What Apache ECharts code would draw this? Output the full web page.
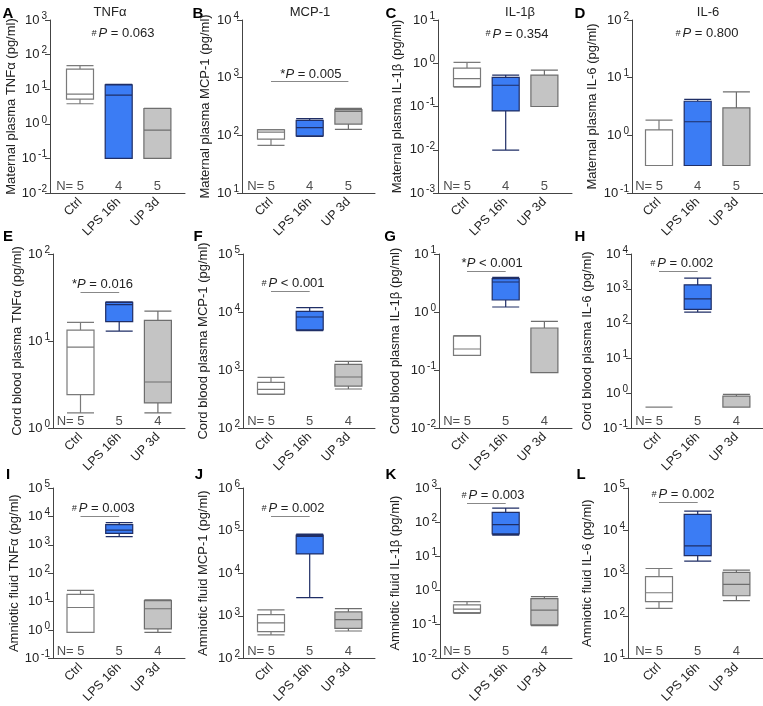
<!DOCTYPE html>
<html>
<head>
<meta charset="utf-8">
<script src="https://cdn.jsdelivr.net/npm/echarts@6/dist/echarts.min.js"></script>
<style>
  html, body { margin: 0; padding: 0; background: #fff; }
  #chart { width: 763px; height: 706px; }
</style>
</head>
<body>
<div id="chart"></div>
<script>
// groups on the x axis
var categories = ['Ctrl', 'LPS 16h', 'UP 3d'];
var nRow1 = [5, 4, 5];
var nRow23 = [5, 5, 4];

// each box: [min, Q1, median, Q3, max] in pg/ml, one per group
var boxA = [[3.8, 5.2, 7.2, 38, 48], [0.1, 0.1, 6.7, 13.3, 13.8], [0.1, 0.1, 0.66, 2.77, 2.8]];
var boxB = [[67, 86, 114, 124, 126], [96, 98, 136, 182, 195], [127, 157, 261, 279, 294]];
var boxC = [[0.28, 0.29, 0.44, 0.77, 1.05], [0.0098, 0.079, 0.31, 0.47, 0.53], [0.1, 0.1, 0.1, 0.53, 0.69]];
var boxD = [[0.3, 0.3, 0.3, 1.24, 1.84], [0.3, 0.3, 1.72, 3.9, 4.2], [0.3, 0.3, 0.3, 3.0, 5.66]];
var boxE = [[1.49, 2.42, 8.5, 13.3, 16.4], [13.0, 16.7, 26.2, 27.8, 28.1], [1.49, 1.94, 3.38, 17.3, 22.1]];
var boxF = [[380, 386, 464, 612, 748], [4790, 4900, 8200, 10260, 11880], [470, 529, 757, 1250, 1410]];
var boxG = [[0.179, 0.179, 0.23, 0.385, 0.39], [1.22, 1.61, 3.29, 3.76, 3.96], [0.09, 0.09, 0.09, 0.53, 0.69]];
var boxH = [[0.4, 0.4, 0.4, 0.4, 0.4], [215, 257, 513, 1300, 2030], [0.4, 0.4, 0.4, 0.82, 0.93]];
var boxI = [[0.82, 0.82, 6.2, 17.8, 25], [1930, 2510, 3270, 5110, 5990], [0.82, 1.1, 5.6, 10.8, 11.4]];
var boxJ = [[355, 423, 680, 1070, 1370], [2670, 28300, 72900, 78200, 82400], [439, 505, 811, 1235, 1470]];
var boxK = [[0.21, 0.22, 0.28, 0.373, 0.464], [41.6, 45, 84, 193, 256], [0.092, 0.096, 0.262, 0.565, 0.645]];
var boxL = [[150, 216, 347, 833, 1290], [1925, 2590, 4390, 24000, 28700], [227, 295, 546, 1045, 1180]];

// y axis range as powers of ten [lowest, highest]
var expA = [-2, 3], expB = [1, 4], expC = [-3, 1], expD = [-1, 2];
var expE = [0, 2], expF = [2, 5], expG = [-2, 1], expH = [-1, 4];
var expI = [-1, 5], expJ = [2, 6], expK = [-2, 3], expL = [1, 5];

var colTitles = ['TNFα', 'MCP-1', 'IL-1β', 'IL-6'];

var panels = [
  { key: 'A', box: boxA, exp: expA, n: nRow1, yName: 'Maternal plasma TNFα (pg/ml)', p: '#P = 0.063' },
  { key: 'B', box: boxB, exp: expB, n: nRow1, yName: 'Maternal plasma MCP-1 (pg/ml)', p: '*P = 0.005' },
  { key: 'C', box: boxC, exp: expC, n: nRow1, yName: 'Maternal plasma IL-1β (pg/ml)', p: '#P = 0.354' },
  { key: 'D', box: boxD, exp: expD, n: nRow1, yName: 'Maternal plasma IL-6 (pg/ml)', p: '#P = 0.800' },
  { key: 'E', box: boxE, exp: expE, n: nRow23, yName: 'Cord blood plasma TNFα (pg/ml)', p: '*P = 0.016' },
  { key: 'F', box: boxF, exp: expF, n: nRow23, yName: 'Cord blood plasma MCP-1 (pg/ml)', p: '#P < 0.001' },
  { key: 'G', box: boxG, exp: expG, n: nRow23, yName: 'Cord blood plasma IL-1β (pg/ml)', p: '*P < 0.001' },
  { key: 'H', box: boxH, exp: expH, n: nRow23, yName: 'Cord blood plasma IL-6 (pg/ml)', p: '#P = 0.002' },
  { key: 'I', box: boxI, exp: expI, n: nRow23, yName: 'Amniotic fluid TNFα (pg/ml)', p: '#P = 0.003' },
  { key: 'J', box: boxJ, exp: expJ, n: nRow23, yName: 'Amniotic fluid MCP-1 (pg/ml)', p: '#P = 0.002' },
  { key: 'K', box: boxK, exp: expK, n: nRow23, yName: 'Amniotic fluid IL-1β (pg/ml)', p: '#P = 0.003' },
  { key: 'L', box: boxL, exp: expL, n: nRow23, yName: 'Amniotic fluid IL-6 (pg/ml)', p: '#P = 0.002' }
];

// ---- layout (pixels) ----
var FONT = 'Arial, "Liberation Sans", Helvetica, sans-serif';
var UNIT = 38.7; // px between group centres
var rows = [[20, 193], [254, 428], [488, 663]];
var layout = {
  A: { left: 50, right: 185, c1: 80, nameX: 17 },
  B: { left: 242, right: 375, c1: 271, nameX: 205 },
  C: { left: 438, right: 572, c1: 467, nameX: 397 },
  D: { left: 632, right: 763, c1: 659, nameX: 592 },
  E: { left: 53, right: 185, c1: 80.5, nameX: 17 },
  F: { left: 243, right: 375, c1: 271, nameX: 203 },
  G: { left: 439, right: 572, c1: 467, nameX: 395 },
  H: { left: 631, right: 763, c1: 659, nameX: 587 },
  I: { left: 53, right: 185, c1: 80.5, nameX: 17 },
  J: { left: 243, right: 375, c1: 271, nameX: 203 },
  K: { left: 440, right: 572, c1: 467, nameX: 395 },
  L: { left: 628, right: 763, c1: 659, nameX: 587 }
};
// significance text / bar: tx = text centre (group units), lv = log10 height, bar from x1 to x2
var sigLayout = {
  A: { tx: 2.11, lv: 2.6 },
  B: { tx: 2.03, lv: 2.945, x1: 1, x2: 3, dy: -6 },
  C: { tx: 2.29, lv: 0.677 },
  D: { tx: 2.24, lv: 1.76 },
  E: { tx: 1.57, lv: 1.563, x1: 1, x2: 2, dy: -8 },
  F: { tx: 1.57, lv: 4.362, x1: 1, x2: 2, dy: -8 },
  G: { tx: 1.65, lv: 0.707, x1: 1, x2: 2, dy: -8 },
  H: { tx: 1.59, lv: 3.51, x1: 1, x2: 2, dy: -8 },
  I: { tx: 1.59, lv: 4.0, x1: 1, x2: 2, dy: -8 },
  J: { tx: 1.57, lv: 5.337, x1: 1, x2: 2, dy: -8 },
  K: { tx: 1.67, lv: 2.543, x1: 1, x2: 2, dy: -8 },
  L: { tx: 1.62, lv: 4.657, x1: 1, x2: 2, dy: -8 }
};
var letterPos = {
  A: [8, 14], B: [198, 14], C: [391, 14], D: [580, 14],
  E: [8, 237], F: [198, 237], G: [390, 237], H: [580, 237],
  I: [8, 475], J: [199, 475], K: [391, 475], L: [581, 475]
};
var titlePos = [[110, 12], [310, 12], [520, 12], [708, 12]];

var groupStyle = [
  { color: '#ffffff', borderColor: '#7a7a7a', borderWidth: 1.2 },
  { color: '#3b7cf4', borderColor: '#1f2e66', borderWidth: 1.2 },
  { color: '#c4c4c4', borderColor: '#6e6e6e', borderWidth: 1.2 }
];

var grids = [], xAxes = [], yAxes = [], series = [], graphics = [];

panels.forEach(function (p, i) {
  var L = layout[p.key];
  var r = rows[Math.floor(i / 4)];
  var width = L.right - L.left;
  var xmin = 1 - (L.c1 - L.left) / UNIT;
  var ymin = Math.pow(10, p.exp[0]);

  grids.push({ left: L.left, top: r[0], width: width, height: r[1] - r[0] });

  xAxes.push({
    gridIndex: i, type: 'value', min: xmin, max: xmin + width / UNIT,
    axisLine: { show: true, lineStyle: { color: '#444', width: 1 } },
    axisTick: { show: false },
    splitLine: { show: false },
    axisLabel: {
      customValues: [1, 2, 3],
      formatter: function (v) { return categories[Math.round(v) - 1]; },
      rotate: 45, margin: 7, fontSize: 12.5, color: '#222', fontFamily: FONT
    }
  });

  yAxes.push({
    gridIndex: i, type: 'log', logBase: 10,
    min: ymin, max: Math.pow(10, p.exp[1]),
    axisLine: { show: true, lineStyle: { color: '#444', width: 1 } },
    axisTick: { show: true, length: 5, lineStyle: { color: '#444' } },
    minorTick: { show: false },
    splitLine: { show: false },
    axisLabel: {
      margin: 3,
      formatter: function (v) {
        var e = Math.round(Math.log10(v));
        return '{b|10}{s|' + e + '}';
      },
      rich: {
        b: { fontSize: 13, lineHeight: 18, color: '#222', fontFamily: FONT },
        s: { fontSize: 10, lineHeight: 8, color: '#222', fontFamily: FONT, verticalAlign: 'top', padding: [0, 0, 0, 2] }
      }
    },
    name: p.yName, nameLocation: 'middle', nameGap: L.left - L.nameX - 7,
    nameTextStyle: { fontSize: 13, color: '#222', fontFamily: FONT }
  });

  series.push({
    type: 'boxplot', xAxisIndex: i, yAxisIndex: i,
    boxWidth: [27, 27], silent: true,
    data: p.box.map(function (b, g) {
      return { value: [g + 1].concat(b), itemStyle: groupStyle[g] };
    })
  });

  // N labels sitting on the x axis, plus the P value annotation
  var s = sigLayout[p.key];
  var sym = p.p.charAt(0);
  var rest = p.p.slice(2);
  var nSeries = {
    type: 'scatter', xAxisIndex: i, yAxisIndex: i, silent: true,
    symbolSize: 0,
    data: p.n.map(function (n, g) {
      return {
        value: [g + 1, ymin],
        label: g === 0 ? { formatter: 'N= ' + n, align: 'right', offset: [4, -7] } : { formatter: String(n), offset: [0, -7] }
      };
    }),
    label: { show: true, position: 'inside', fontSize: 13, color: '#222', fontFamily: FONT },
    markPoint: {
      silent: true, symbol: 'circle', symbolSize: 0, animation: false,
      data: [{ coord: [s.tx, Math.pow(10, s.lv)] }],
      label: {
        show: true, position: 'inside', offset: [0, s.dy || 0],
        formatter: '{s|' + sym + '}{i|P}{t|' + rest + '}',
        rich: {
          s: sym === '#'
            ? { fontSize: 9, fontStyle: 'italic', color: '#222', fontFamily: FONT, padding: [0, 2, 0, 0] }
            : { fontSize: 13, color: '#222', fontFamily: FONT },
          i: { fontSize: 13, fontStyle: 'italic', color: '#222', fontFamily: FONT },
          t: { fontSize: 13, color: '#222', fontFamily: FONT }
        }
      }
    }
  };
  if (s.x1) {
    nSeries.markLine = {
      silent: true, symbol: 'none', animation: false,
      lineStyle: { color: '#888', width: 1, type: 'solid' },
      label: { show: false },
      data: [[{ coord: [s.x1, Math.pow(10, s.lv)] }, { coord: [s.x2, Math.pow(10, s.lv)] }]]
    };
  }
  series.push(nSeries);

  var lp = letterPos[p.key];
  graphics.push({
    type: 'text', x: lp[0], y: lp[1], silent: true,
    style: { text: p.key, font: 'bold 15px ' + FONT, fill: '#000', align: 'center', verticalAlign: 'middle' }
  });
});

colTitles.forEach(function (t, c) {
  graphics.push({
    type: 'text', x: titlePos[c][0], y: titlePos[c][1], silent: true,
    style: { text: t, font: '13px ' + FONT, fill: '#222', align: 'center', verticalAlign: 'middle' }
  });
});

var chart = echarts.init(document.getElementById('chart'));
chart.setOption({
  animation: false,
  textStyle: { fontFamily: FONT },
  grid: grids,
  xAxis: xAxes,
  yAxis: yAxes,
  series: series,
  graphic: graphics
});
</script>
</body>
</html>
